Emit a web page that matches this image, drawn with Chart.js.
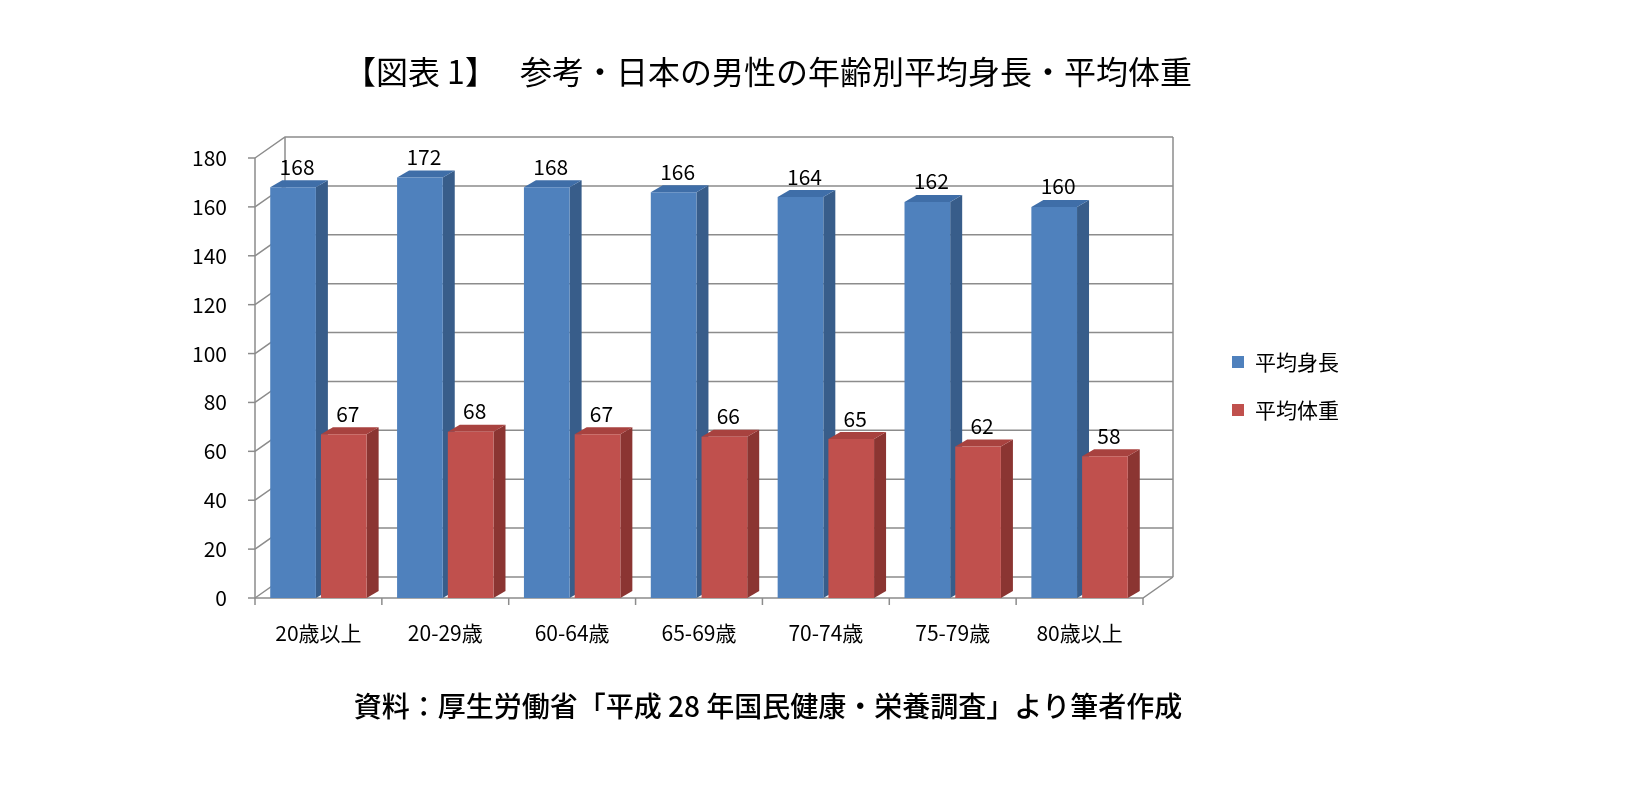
<!DOCTYPE html>
<html><head><meta charset="utf-8">
<script src="https://cdn.jsdelivr.net/npm/chart.js@4"></script>
<style>html,body{margin:0;background:#fff}#c{display:block}</style>
</head><body>
<div style="width:1631px;height:807px"><canvas id="c"></canvas></div>
<script>
const categories=["20歳以上","20-29歳","60-64歳","65-69歳","70-74歳","75-79歳","80歳以上"];
const heightVals=[168,172,168,166,164,162,160];
const weightVals=[67,68,67,66,65,62,58];
const seriesNames=["平均身長","平均体重"];
const yTicks=[0,20,40,60,80,100,120,140,160,180];
const titleText="【図表 1】　 参考・日本の男性の年齢別平均身長・平均体重";
const sourceText="資料：厚生労働省「平成 28 年国民健康・栄養調査」より筆者作成";
const FONT="'Noto Sans CJK JP','Noto Sans',sans-serif";
const WX=30,WY=-21,BX=12,BY=-7;
const fronts=["#4f81bd","#c0504d"],sides=["#385d8a","#8b3532"],tops=["#3f6ea8","#a8423f"];
const p3d={id:'p3d',
beforeDatasetsDraw(ch){const c=ch.ctx,y=ch.scales.y,a=ch.chartArea;c.save();c.strokeStyle="#8c8c8c";c.lineWidth=1.5;
 yTicks.forEach(v=>{const py=y.getPixelForValue(v);c.beginPath();c.moveTo(a.left,py);c.lineTo(a.left+WX,py+WY);c.lineTo(a.right+WX,py+WY);c.stroke();});
 c.beginPath();c.moveTo(a.left+WX,y.getPixelForValue(180)+WY);c.lineTo(a.left+WX,a.bottom+WY);c.stroke();
 c.beginPath();c.moveTo(a.left,y.getPixelForValue(180));c.lineTo(a.left,a.bottom);c.lineTo(a.right,a.bottom);c.lineTo(a.right+WX,a.bottom+WY);c.stroke();
 c.beginPath();c.moveTo(a.right+WX,y.getPixelForValue(180)+WY);c.lineTo(a.right+WX,a.bottom+WY);c.stroke();
 yTicks.forEach(v=>{const py=y.getPixelForValue(v);c.beginPath();c.moveTo(a.left-7,py);c.lineTo(a.left,py);c.stroke();});
 const n=categories.length,w=(a.right-a.left)/n;for(let i=0;i<=n;i++){const px=a.left+i*w;c.beginPath();c.moveTo(px,a.bottom);c.lineTo(px,a.bottom+7);c.stroke();}
 for(let d=0;d<2;d++){ch.getDatasetMeta(d).data.forEach(b=>{const l=b.x-b.width/2,r=b.x+b.width/2,t=b.y,bt=b.base;
  c.fillStyle=sides[d];c.beginPath();c.moveTo(r,t);c.lineTo(r+BX,t+BY);c.lineTo(r+BX,bt+BY);c.lineTo(r,bt);c.closePath();c.fill();
  c.fillStyle=tops[d];c.beginPath();c.moveTo(l,t);c.lineTo(l+BX,t+BY);c.lineTo(r+BX,t+BY);c.lineTo(r,t);c.closePath();c.fill();});}
 c.restore();},
afterDatasetsDraw(ch){const c=ch.ctx;c.save();c.fillStyle="#000";c.font="21px "+FONT;c.textAlign="center";c.textBaseline="bottom";
 for(let d=0;d<2;d++){const ds=ch.data.datasets[d];ch.getDatasetMeta(d).data.forEach((b,i)=>{c.fillText(ds.data[i],b.x+4,b.y-10);});}
 c.font="32px "+FONT;c.fillText(titleText,768,88);c.font="500 28px "+FONT;c.fillText(sourceText,768,720);
 c.font="21px "+FONT;c.textAlign="left";c.textBaseline="middle";
 seriesNames.forEach((s,i)=>{const yy=362+i*48;c.fillStyle=fronts[i];c.fillRect(1232,yy-6,12,12);c.fillStyle="#000";c.fillText(s,1255,yy);});
 c.restore();}};
new Chart(document.getElementById('c'),{type:'bar',
data:{labels:categories,datasets:[{label:seriesNames[0],data:heightVals,backgroundColor:fronts[0]},{label:seriesNames[1],data:weightVals,backgroundColor:fronts[1]}]},
options:{responsive:true,maintainAspectRatio:false,animation:false,devicePixelRatio:1,
 layout:{padding:{left:175,right:488,top:158,bottom:149}},
 plugins:{legend:{display:false},tooltip:{enabled:false}},
 scales:{x:{grid:{display:false},border:{display:false},categoryPercentage:0.57,barPercentage:0.97,
   ticks:{color:"#000",font:{size:21,family:FONT},padding:14},afterFit(s){s.height=60;}},
  y:{min:0,max:180,grid:{display:false},border:{display:false},
   ticks:{stepSize:20,color:"#000",font:{size:21,family:FONT},padding:20},afterFit(s){s.width=80;}}}},
plugins:[p3d]});
</script></body></html>
